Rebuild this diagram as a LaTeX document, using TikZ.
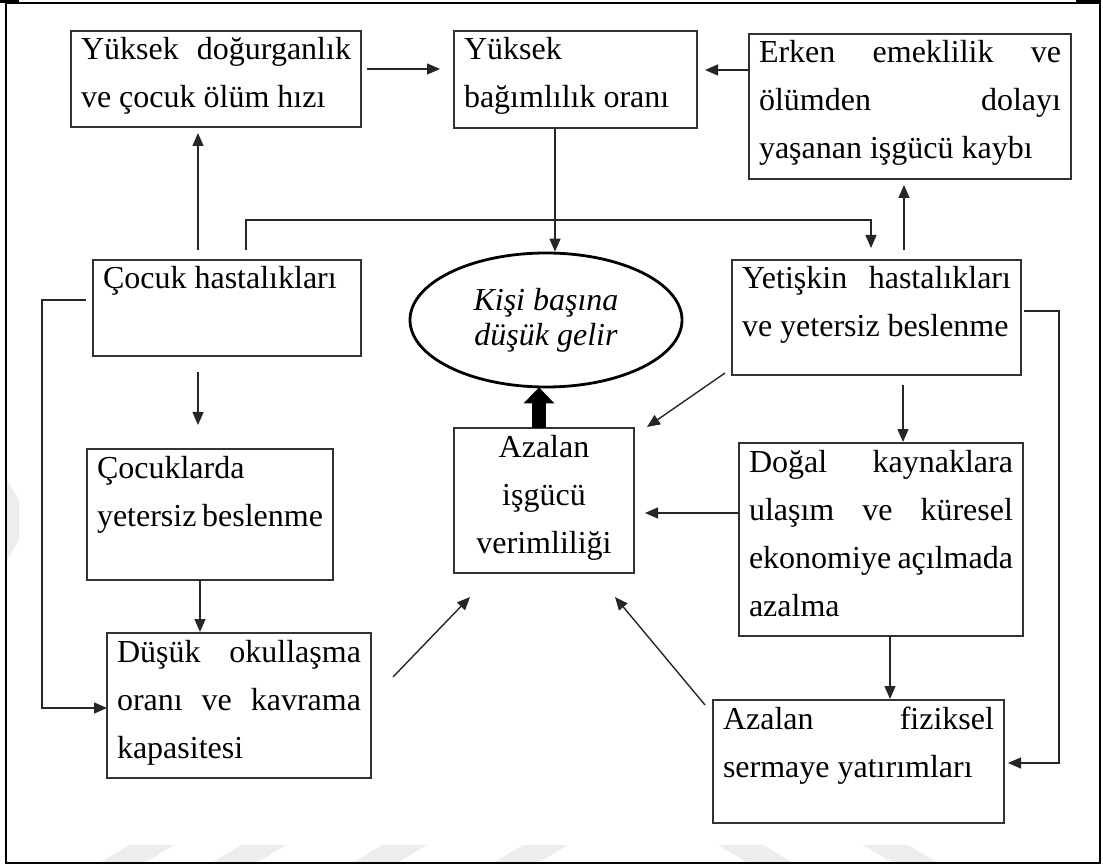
\documentclass[tikz,border=0pt]{standalone}
\usepackage{fontspec}
\setmainfont{Liberation Serif}
\usetikzlibrary{arrows.meta,calc,shapes.geometric}
\hbadness=10000 \hfuzz=30pt \vbadness=10000 \vfuzz=30pt
\newcommand{\boxtxt}[3]{\parbox[c][#1pt][t]{#2pt}{\fontsize{32}{48}\selectfont\rule{0pt}{29pt}#3}}
\begin{document}
\begin{tikzpicture}[x=1pt,y=-1pt,
  box/.style={draw=black!80, line width=1.5pt, inner xsep=10pt, inner ysep=0pt, anchor=north west, outer sep=0pt},
  arr/.style={draw=black!85, line width=1.4pt, -{Triangle[length=13pt,width=11pt]}},
  ln/.style={draw=black!85, line width=1.4pt},
  wm/.style={fill=black!7}]
\useasboundingbox (0,0) rectangle (1103,866);
% faint watermark
\foreach \b in {99,211,352,493}{\fill[wm] (\b,863) -- (\b+30,845) -- (\b+75,845) -- (\b+45,863) -- cycle;}
\foreach \t in {718,863}{\fill[wm] (\t,845) -- (\t+45,845) -- (\t+75,863) -- (\t+30,863) -- cycle;}
\fill[wm] (7,480) -- (19,500) -- (19,540) -- (7,560) -- cycle;
% frame
\draw[line width=2.2pt] (6,3) rectangle (1100,863);
\fill (0,0) rectangle (19,3.5);
\fill (1076,0) rectangle (1101,4);
% boxes
\node[box] (A) at (71,31) {\boxtxt{96}{270}{Yüksek\hfill doğurganlık\\ ve çocuk ölüm hızı}};
\node[box] (B) at (454,31) {\boxtxt{97}{223}{Yüksek\\ bağımlılık oranı}};
\node[box] (C) at (749,34) {\boxtxt{145}{302}{Erken\hfill emeklilik\hfill ve\\ ölümden\hfill dolayı\\ yaşanan işgücü kaybı}};
\node[box] (D) at (93,260) {\boxtxt{96}{248}{Çocuk hastalıkları}};
\node[box] (E) at (732,260) {\boxtxt{115}{269}{Yetişkin\hfill hastalıkları\\ ve yetersiz beslenme}};
\node[box] (F) at (87,449) {\boxtxt{131}{226}{Çocuklarda\\ yetersiz beslenme}};
\node[box] (G) at (107,633) {\boxtxt{145}{244}{Düşük\hfill okullaşma\\ oranı\hfill ve\hfill kavrama\\ kapasitesi}};
\node[box] (H) at (739,443) {\boxtxt{193}{264}{Doğal\hfill kaynaklara\\ ulaşım\hfill ve\hfill küresel\\ ekonomiye açılmada\\ azalma}};
\node[box] (I) at (713,700) {\boxtxt{123}{271}{Azalan\hfill fiziksel\\ sermaye yatırımları}};
\node[box] (Az) at (454,428) {\boxtxt{145}{160}{\centering Azalan\\ işgücü\\ verimliliği}};
\node[ellipse, draw=black, line width=2.8pt, minimum width=272pt, minimum height=134pt, inner sep=0pt,
      align=center, font=\itshape\fontsize{32}{35}\selectfont] (K) at (546,320) {Kişi başına\\düşük gelir};
% connectors
\draw[arr] ($(A.north east)+(6,38)$) -- ($(B.north west)+(-14,38)$);
\draw[arr] ($(C.north west)+(0,36)$) -- ($(B.north east)+(8,39)$);
\draw[arr] ($(D.north west)+(105,-10)$) -- ($(A.south west)+(127,6)$);
\draw[arr] ($(D.north west)+(153,-10)$) |- ($(E.north west)+(139,-40)$) -- ($(E.north west)+(139,-12)$);
\draw[arr] ($(B.south west)+(101,0)$) -- ($(K.north)+(9,0)$);
\draw[arr] ($(E.north west)+(172,-10)$) -- ($(C.south west)+(155,6)$);
\draw[arr] ($(E.south west)+(-7,-2)$) -- ($(Az.north east)+(13,-1)$);
\draw[arr] ($(D.north west)+(-7,40)$) -- ++(-44,0) |- ($(G.north west)+(0,75)$);
\draw[arr] ($(D.south west)+(105,16)$) -- ($(F.north west)+(111,-24)$);
\draw[arr] ($(F.south west)+(113,0)$) -- ($(G.north west)+(93,-1)$);
\draw[arr] ($(G.north east)+(22,44)$) -- ($(Az.south west)+(16,24)$);
\draw[arr] ($(H.north west)+(0,70)$) -- ($(Az.north east)+(11,85)$);
\draw[arr] ($(I.north west)+(-8,5)$) -- ($(Az.south west)+(161,24)$);
\draw[arr] ($(E.south west)+(171,10)$) -- ($(H.north west)+(164,-1)$);
\draw[arr] ($(H.south west)+(151,0)$) -- ($(I.north west)+(177,-1)$);
\draw[arr] ($(E.north east)+(3,51)$) -- ++(35,0) |- ($(I.north east)+(4,63)$);
\draw[line width=14pt, -{Triangle[length=16pt,width=30pt]}] ($(Az.north)+(-5,0)$) -- ($(K.south)+(-7,-1)$);
\end{tikzpicture}
\end{document}
